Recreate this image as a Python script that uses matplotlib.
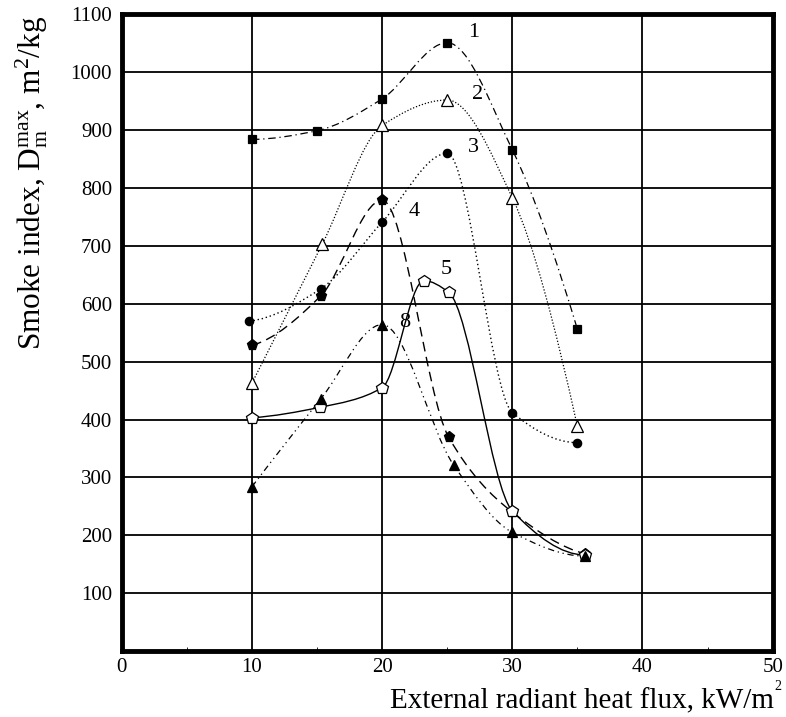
import numpy as np
import matplotlib
matplotlib.use("Agg")
import matplotlib.pyplot as plt
from matplotlib.path import Path
from matplotlib.patches import PathPatch

plt.rcParams['font.family'] = ['Liberation Serif', 'DejaVu Serif']
plt.rcParams['mathtext.fontset'] = 'custom'
plt.rcParams['mathtext.rm'] = 'Liberation Serif'
plt.rcParams['mathtext.it'] = 'Liberation Serif'

# data (external radiant heat flux kW/m2, smoke index m2/kg)
x1 = [10, 15, 20, 25, 30, 35]
y1 = [884, 899, 954, 1051, 866, 556]
x2 = [10, 15.4, 20, 25, 30, 35]
y2 = [463, 703, 908, 952, 783, 388]
x3 = [9.8, 15.3, 20, 25, 30, 35]
y3 = [570, 626, 741, 860, 412, 360]
x4 = [10, 15.3, 20, 25.1, 30, 35.6]
y4 = [528, 614, 779, 370, 240, 168]
x5 = [10, 15.2, 20, 23.2, 25.1, 30, 35.6]
y5 = [403, 421, 455, 640, 620, 242, 166]
x8 = [10, 15.3, 20, 25.5, 30, 35.6]
y8 = [284, 436, 564, 321, 205, 164]
labels = ['1', '2', '3', '4', '5', '8']
label_xy = [(26.6, 1068), (26.9, 962), (26.6, 870), (22.0, 760), (24.5, 660), (21.3, 568)]


def pchip_slopes(xs, ys):
    h = np.diff(xs)
    d = np.diff(ys) / h
    n = len(xs)
    m = np.zeros(n)
    for k in range(1, n - 1):
        if d[k - 1] * d[k] <= 0:
            m[k] = 0.0
        else:
            w1 = 2 * h[k] + h[k - 1]
            w2 = h[k] + 2 * h[k - 1]
            m[k] = (w1 + w2) / (w1 / d[k - 1] + w2 / d[k])
    def end(h0, h1, d0, d1):
        s = ((2 * h0 + h1) * d0 - h0 * d1) / (h0 + h1)
        if np.sign(s) != np.sign(d0):
            s = 0.0
        elif np.sign(d0) != np.sign(d1) and abs(s) > abs(3 * d0):
            s = 3 * d0
        return s
    if n > 2:
        m[0] = end(h[0], h[1], d[0], d[1])
        m[-1] = end(h[-1], h[-2], d[-1], d[-2])
    else:
        m[:] = d[0]
    return m


def smooth_path(xs, ys):
    xs = np.asarray(xs, float); ys = np.asarray(ys, float)
    m = pchip_slopes(xs, ys)
    verts = [(xs[0], ys[0])]
    codes = [Path.MOVETO]
    for i in range(len(xs) - 1):
        h = xs[i + 1] - xs[i]
        verts += [(xs[i] + h / 3, ys[i] + m[i] * h / 3),
                  (xs[i + 1] - h / 3, ys[i + 1] - m[i + 1] * h / 3),
                  (xs[i + 1], ys[i + 1])]
        codes += [Path.CURVE4] * 3
    return Path(verts, codes)


fig = plt.figure(figsize=(7.86, 7.17), dpi=100)
ax = fig.add_axes([0.155, 0.092, 0.828, 0.888])
ax.set_xlim(0, 50)
ax.set_ylim(0, 1100)

series = [
    (x1, y1, 's', 'k', (0, (6, 3, 1, 3)), 0.9, 6),
    (x2, y2, '^', 'white', (0, (1, 1.5)), 0.9, 8),
    (x3, y3, 'o', 'k', (0, (1, 2)), 1.0, 6),
    (x4, y4, 'p', 'k', (0, (7, 4)), 1.0, 8),
    (x5, y5, 'p', 'white', '-', 1.0, 9),
    (x8, y8, '^', 'k', (0, (5, 3, 1, 3, 1, 3)), 0.9, 7),
]
for xs, ys, m, fc, ls, lw, ms in series:
    patch = PathPatch(smooth_path(xs, ys), facecolor='none', edgecolor='k',
                      linestyle=ls, linewidth=lw, zorder=3)
    ax.add_patch(patch)
    ax.plot(xs, ys, linestyle='none', marker=m, markerfacecolor=fc,
            markeredgecolor='k', markeredgewidth=0.9, markersize=ms, zorder=4)

for lab, (lx, ly) in zip(labels, label_xy):
    ax.text(lx, ly, lab, fontsize=16, ha='left', va='center', zorder=5)

ax.set_xticks([0, 10, 20, 30, 40, 50])
ax.set_yticks([100, 200, 300, 400, 500, 600, 700, 800, 900, 1000, 1100])
ax.set_xticks([5, 15, 25, 35, 45], minor=True)
ax.grid(True, which='major', color='k', linewidth=1.3)
ax.set_axisbelow(True)
ax.tick_params(axis='both', which='major', length=0, labelsize=15, pad=7)
ax.tick_params(axis='x', which='major', pad=5)
ax.tick_params(axis='x', which='minor', direction='in', length=3, width=0.6)
for s in ax.spines.values():
    s.set_linewidth(3.5)

xl = fig.text(0.984, 0.004, 'External radiant heat flux, kW/m', fontsize=21,
              ha='right', va='bottom')
fig.text(0.985, 0.033, '2', fontsize=10, ha='left', va='bottom')
fig.text(0.040, 0.745, r'Smoke index, D$_{\rm m}^{\rm max}$, m$^2$/kg', fontsize=22.5,
         rotation=90, ha='center', va='center')

fig.savefig('out.png', dpi=100)
